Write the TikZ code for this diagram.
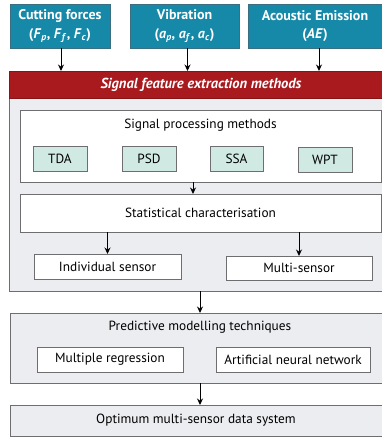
\documentclass[tikz,border=0pt]{standalone}
\usepackage{fontspec}
\setmainfont{PT Sans}
\usetikzlibrary{arrows.meta}
\definecolor{sensorblue}{RGB}{22,137,168}
\definecolor{sensoredge}{RGB}{60,110,130}
\definecolor{barred}{RGB}{168,26,30}
\definecolor{panelgray}{RGB}{236,237,241}
\definecolor{edgegray}{RGB}{110,110,112}
\definecolor{mint}{RGB}{208,233,227}
\tikzset{
  box/.style={draw=edgegray, line width=0.9pt, inner sep=0pt, outer sep=0pt, anchor=north west, align=center},
  sensor/.style={box, draw=sensoredge, fill=sensorblue, text=white, font=\fontsize{14}{18.5}\selectfont\bfseries},
  panel/.style={box, fill=panelgray},
  whitebox/.style={box, fill=white, font=\fontsize{13.3}{15}\selectfont},
  method/.style={box, fill=mint, font=\fontsize{13.3}{15}\selectfont},
  arr/.style={line width=1pt, -{Stealth[length=6.5pt,width=6pt]}},
  label/.style={font=\fontsize{13.3}{15}\selectfont, inner sep=0pt}
}
\newcommand{\sub}[1]{\textsubscript{\textit{#1}}}
\begin{document}
\begin{tikzpicture}[x=1pt,y=-1pt]
\useasboundingbox (0,0) rectangle (382,437);
\clip (0,0) rectangle (382,437);

% sensor inputs
\node[sensor, minimum width=100pt, minimum height=44pt] (cf) at (10,4)
  {Cutting forces\\(\textit{F}\sub{p}, \textit{F}\sub{f}, \textit{F}\sub{c})};
\node[sensor, minimum width=109pt, minimum height=44pt] (vib) at (130,4)
  {Vibration\\(\textit{a}\sub{p}, \textit{a}\sub{f}, \textit{a}\sub{c})};
\node[sensor, minimum width=142pt, minimum height=44pt] (ae) at (248,4)
  {\hspace*{-8pt}Acoustic Emission\\\hspace*{-8pt}(\textit{AE})};

% feature extraction panel with red title bar
\node[panel, minimum width=381pt, minimum height=220pt] (sfe) at (9,71) {};
\node[box, draw=barred!80!black, fill=barred, minimum width=381pt, minimum height=27pt] (bar) at (9,71) {};
\node[text=white, font=\fontsize{14.5}{16}\selectfont\bfseries\itshape, inner sep=0pt] (bartitle) at (201,84.5)
  {Signal feature extraction methods};

\node[whitebox, minimum width=361pt, minimum height=72pt] (spm) at (20,110) {};
\node[label] (spmtitle) at (200.5,125) {Signal processing methods};
\node[method, minimum width=54pt, minimum height=25pt] (tda) at (33,146) {TDA};
\node[method, minimum width=54pt, minimum height=25pt] (psd) at (122,146) {PSD};
\node[method, minimum width=53pt, minimum height=25pt] (ssa) at (210,146) {SSA};
\node[method, minimum width=54pt, minimum height=25pt] (wpt) at (298,147) {WPT};

\node[whitebox, minimum width=361pt, minimum height=38pt] (stat) at (20,194) {Statistical characterisation};
\node[whitebox, minimum width=147pt, minimum height=25pt] (ind) at (34,254) {Individual sensor};
\node[whitebox, minimum width=146pt, minimum height=24pt] (multi) at (226,256) {Multi-sensor};

% modelling panel
\node[panel, minimum width=381pt, minimum height=70pt] (pred) at (10,313) {};
\node[label] (predtitle) at (200,327) {Predictive modelling techniques};
\node[whitebox, minimum width=146pt, minimum height=25pt] (mr) at (37,347) {Multiple regression};
\node[whitebox, minimum width=154pt, minimum height=25pt] (ann) at (216,347) {Artificial neural network};

% output
\node[panel, minimum width=381pt, minimum height=31pt, font=\fontsize{13.3}{15}\selectfont] (opt) at (10,405)
  {\hspace*{-9pt}Optimum multi-sensor data system};

% connectors
\coordinate (axis) at (200,0);
\draw[arr] ([xshift=1pt]cf.south) -- ([xshift=1pt]cf.south |- bar.north);
\draw[arr] ([xshift=3pt]vib.south) -- ([xshift=3pt]vib.south |- bar.north);
\draw[arr] (319,0 |- ae.south) -- (319,0 |- bar.north);
\draw[arr] ([xshift=-7.5pt]spm.south) -- ([xshift=-7.5pt]spm.south |- stat.north);
\draw[arr] (stat.south -| ind) -- (ind.north);
\draw[arr] (stat.south -| multi) -- (multi.north);
\draw[arr] (sfe.south -| axis) -- (pred.north -| axis);
\draw[arr] (pred.south -| axis) -- (opt.north -| axis);
\end{tikzpicture}
\end{document}
